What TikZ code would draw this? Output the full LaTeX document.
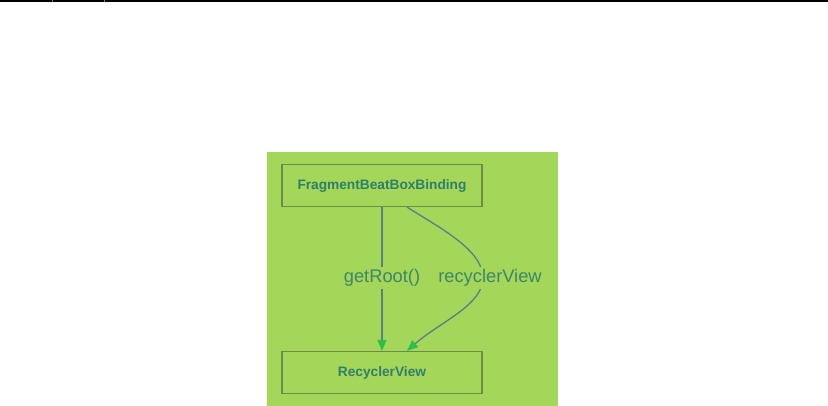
\documentclass[tikz,border=0pt]{standalone}
\usepackage{fontspec}
\setmainfont{Liberation Sans}
\usetikzlibrary{arrows.meta}
\definecolor{bg}{HTML}{A4D65A}
\definecolor{boxline}{HTML}{6E8A4E}
\definecolor{boxtext}{HTML}{2F7F6A}
\definecolor{labtext}{HTML}{3F8668}
\definecolor{edge}{HTML}{5C7C8C}
\definecolor{tip}{HTML}{2CC04A}
\tikzset{
  x=1pt, y=-1pt,
  classbox/.style={draw=boxline, line width=1.2pt, minimum width=200pt, minimum height=42pt,
    inner sep=0pt, text=boxtext, font=\fontsize{13.7}{16}\selectfont\bfseries},
  edgelabel/.style={fill=bg, text=labtext, inner sep=2pt, font=\fontsize{18.3}{22}\selectfont},
  link/.style={draw=edge, line width=1.3pt, -{Triangle[length=11pt,width=9pt,color=tip,fill=tip]}}
}
\begin{document}
\begin{tikzpicture}
\useasboundingbox (0,0) rectangle (828,406);
\fill[black] (0,0) rectangle (828,1.6);
\fill[gray] (52,0) rectangle (53,1.6);
\fill[gray] (104,0) rectangle (105,1.6);
\fill[bg] (267,152) rectangle (558,406);
\node[classbox] (fb) at (382,185.5) {FragmentBeatBoxBinding};
\node[classbox] (rv) at (382,372.5) {RecyclerView};
\coordinate (fbr) at ([xshift=25pt]fb.south);
\coordinate (rvr) at ([xshift=25pt]rv.north);
\draw[link] (fb.south) -- (rv.north);
\draw[link] (fbr) .. controls (440,228) and (483,250) .. (483,278)
  .. controls (483,305) and (440,322) .. (rvr);
\node[edgelabel] (l1) at (382,278) {getRoot()};
\node[edgelabel] (l2) at (490,278) {recyclerView};
\end{tikzpicture}
\end{document}
